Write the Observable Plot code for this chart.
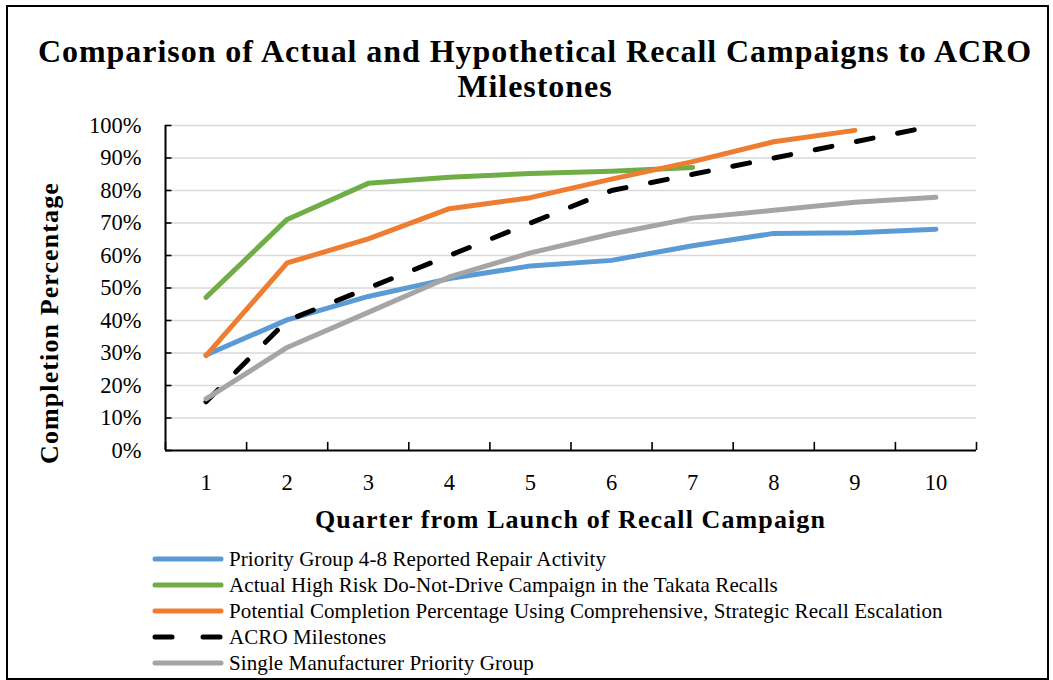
<!DOCTYPE html>
<html>
<head>
<meta charset="utf-8">
<script src="https://cdn.jsdelivr.net/npm/d3@7"></script>
<script src="https://cdn.jsdelivr.net/npm/@observablehq/plot@0.6"></script>
<style>
  body { margin: 0; background: #fff; }
  #chart { position: relative; width: 1053px; height: 680px; font-family: "Liberation Serif", serif; color: #000; overflow: hidden; }
  #frame { position: absolute; left: 6px; top: 5px; width: 1043px; height: 675px; border: 2px solid #000; box-sizing: border-box; pointer-events: none; }
  #plot { position: absolute; left: 0; top: 0; }
  .title { position: absolute; left: 20px; width: 1030px; text-align: center; font-weight: bold; font-size: 32px; letter-spacing: 0.95px; line-height: 35px; top: 34px; }
  .xlabel { position: absolute; left: 165px; width: 811px; text-align: center; font-weight: bold; font-size: 26px; letter-spacing: 1.1px; top: 505px; }
  .ylabel { position: absolute; left: 50px; top: 323px; transform: translate(-50%, -50%) rotate(-90deg); white-space: nowrap; font-weight: bold; font-size: 26px; letter-spacing: 1.1px; }
  .legend { position: absolute; left: 152px; top: 546px; }
  .legend .row { display: flex; align-items: center; height: 26px; font-size: 21px; letter-spacing: 0.1px; white-space: nowrap; }
  .legend svg { margin-right: 5px; }
</style>
</head>
<body>
<div id="chart">
  <div class="title">Comparison of Actual and Hypothetical Recall Campaigns to ACRO<br>Milestones</div>
  <div id="plot"></div>
  <div class="ylabel">Completion Percentage</div>
  <div class="xlabel">Quarter from Launch of Recall Campaign</div>
  <div class="legend" id="legend"></div>
  <div id="frame"></div>
</div>
<script>
// Quarters since the launch of a recall campaign
const quarters = [1, 2, 3, 4, 5, 6, 7, 8, 9, 10];

// Completion percentages per quarter
const priorityGroupRepair = [29.4, 40.2, 47.4, 52.9, 56.8, 58.5, 63.0, 66.8, 67.0, 68.1];
const doNotDriveCampaign = [47.1, 71.1, 82.2, 84.1, 85.2, 85.9, 87.1];
const strategicEscalation = [29.2, 57.7, 65.1, 74.4, 77.8, 83.5, 88.9, 95.0, 98.5];
const acroMilestones = [15, 40, 50, 60, 70, 80, 85, 90, 95, 100];
const singleManufacturer = [15.9, 31.7, 42.5, 53.4, 60.8, 66.6, 71.5, 73.9, 76.4, 77.9];

const yTicks = [0, 10, 20, 30, 40, 50, 60, 70, 80, 90, 100];

const seriesNames = [
  "Priority Group 4-8 Reported Repair Activity",
  "Actual High Risk Do-Not-Drive Campaign in the Takata Recalls",
  "Potential Completion Percentage Using Comprehensive, Strategic Recall Escalation",
  "ACRO Milestones",
  "Single Manufacturer Priority Group"
];
const seriesValues = [priorityGroupRepair, doNotDriveCampaign, strategicEscalation, acroMilestones, singleManufacturer];
const seriesColors = ["#5B9BD5", "#70AD47", "#ED7D31", "#000000", "#A5A5A5"];
const seriesDash = [null, null, null, "17,25", null];

// Category boundaries on the quarter axis
const boundaries = d3.range(0.5, 10.6, 1);

const lineWidth = 5;

const lineMarks = seriesValues.map((vals, k) => {
  const data = vals.map((v, i) => ({q: quarters[i], v}));
  return Plot.line(data, {
    x: "q", y: "v",
    stroke: seriesColors[k],
    strokeWidth: lineWidth,
    strokeLinejoin: "round",
    strokeLinecap: "round",
    strokeDasharray: seriesDash[k] ?? undefined
  });
});

const chart = Plot.plot({
  width: 1053,
  height: 680,
  marginLeft: 165,
  marginRight: 77,
  marginTop: 125,
  marginBottom: 230,
  style: {fontFamily: "Liberation Serif, serif", fontSize: "22px", background: "transparent", color: "#000"},
  x: {domain: [0.5, 10.5], axis: null},
  y: {domain: [0, 100], axis: null},
  marks: [
    Plot.ruleY(yTicks.slice(1), {stroke: "#d9d9d9", strokeWidth: 1.6}),
    ...lineMarks,
    Plot.ruleY([0], {stroke: "#000", strokeWidth: 2}),
    Plot.ruleX([0.5], {y1: 0, y2: 100, stroke: "#000", strokeWidth: 2}),
    Plot.ruleX(boundaries, {y1: 0, y2: 2.5, stroke: "#000", strokeWidth: 1.6}),
    Plot.ruleY(yTicks, {x1: 0.5, x2: 0.58, stroke: "#000", strokeWidth: 1.6}),
    Plot.axisY({ticks: yTicks, tickSize: 0, tickPadding: 24, tickFormat: d => d + "%", fontSize: 22.5, label: null}),
    Plot.axisX({ticks: quarters, tickSize: 0, tickPadding: 24, tickFormat: d => String(d), fontSize: 22.5, label: null})
  ]
});
document.getElementById("plot").appendChild(chart);

// Legend rows with line swatches
const legend = d3.select("#legend");
seriesNames.forEach((name, k) => {
  const row = legend.append("div").attr("class", "row");
  const sw = row.append("svg").attr("width", 72).attr("height", 12);
  const ln = sw.append("line")
    .attr("x1", 3).attr("x2", 69).attr("y1", 6).attr("y2", 6)
    .attr("stroke", seriesColors[k]).attr("stroke-width", lineWidth)
    .attr("stroke-linecap", "round");
  if (seriesDash[k]) ln.attr("stroke-dasharray", "17,31");
  row.append("span").text(name);
});
</script>
</body>
</html>
